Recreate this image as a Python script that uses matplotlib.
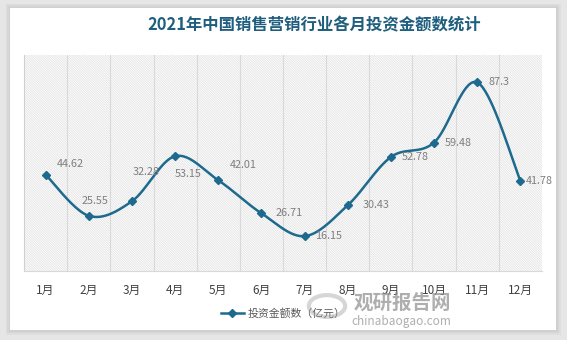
import numpy as np
import matplotlib.pyplot as plt
from matplotlib.patches import Rectangle, Circle
from matplotlib.lines import Line2D

plt.rcParams['font.family'] = ['Noto Sans CJK SC', 'DejaVu Sans']
plt.rcParams['hatch.linewidth'] = 0.6

months = ['1月', '2月', '3月', '4月', '5月', '6月', '7月', '8月', '9月', '10月', '11月', '12月']
amounts = [44.62, 25.55, 32.28, 53.15, 42.01, 26.71, 16.15, 30.43, 52.78, 59.48, 87.3, 41.78]
series_name = '投资金额数（亿元）'
title = '2021年中国销售营销行业各月投资金额数统计'

# label offsets in pixels (dx, dy)
label_offsets = [(25, 11), (6, 15), (14, 29), (13, -18), (25, 15), (28, 0),
                 (24, 0), (28, 0), (24, 0), (24, 0), (22, 0), (19, 0)]

line_color = '#1D6A8E'
title_color = '#1F5E7E'


def smooth_curve(x, y, n=40):
    # Catmull-Rom through the points, written as cubic Bezier pieces
    x = np.asarray(x, float)
    y = np.asarray(y, float)
    px = np.concatenate([[x[0]], x, [x[-1]]])
    py = np.concatenate([[y[0]], y, [y[-1]]])
    t = np.linspace(0, 1, n)
    xs, ys = [], []
    for i in range(1, len(x)):
        p0 = np.array([px[i], py[i]])
        p3 = np.array([px[i + 1], py[i + 1]])
        p1 = p0 + (np.array([px[i + 1], py[i + 1]]) - np.array([px[i - 1], py[i - 1]])) / 6
        p2 = p3 - (np.array([px[i + 2], py[i + 2]]) - np.array([px[i], py[i]])) / 6
        b = ((1 - t) ** 3)[:, None] * p0 + (3 * (1 - t) ** 2 * t)[:, None] * p1 \
            + (3 * (1 - t) * t ** 2)[:, None] * p2 + (t ** 3)[:, None] * p3
        xs.append(b[:, 0])
        ys.append(b[:, 1])
    return np.concatenate(xs), np.concatenate(ys)


fig = plt.figure(figsize=(5.67, 3.40), dpi=100)
fig.patch.set_facecolor('#E6E6E6')

# white card with a soft shadow
for k, c in enumerate(['#DEDEDE', '#D6D6D6', '#D0D0D0']):
    pad = (3 - k) * 1.5
    fig.add_artist(Rectangle(((10 - pad) / 567, (10 - pad) / 340),
                             (546 + 2 * pad) / 567, (322 + 2 * pad) / 340,
                             transform=fig.transFigure, facecolor=c, edgecolor='none', zorder=0))
fig.add_artist(Rectangle((10 / 567, 10 / 340), 546 / 567, 322 / 340,
                         transform=fig.transFigure, facecolor='white', edgecolor='none', zorder=0))

ax = fig.add_axes([24 / 567, 69 / 340, 518 / 567, 216 / 340])
ax.set_facecolor('none')
ax.add_patch(Rectangle((0, 0), 1, 1, transform=ax.transAxes, facecolor='white',
                       edgecolor='#E3E3E3', hatch='\\' * 14, linewidth=0, zorder=0))

x = np.arange(len(months))
ax.set_xlim(-0.5, len(months) - 0.5)
ax.set_ylim(0, 100)

for b in np.arange(0.5, len(months) - 0.5, 1):
    ax.axvline(b, color='#D9D9D9', lw=0.8, zorder=1)

sx, sy = smooth_curve(x, amounts)
ax.plot(sx, sy, color=line_color, lw=1.8, zorder=3, solid_capstyle='round')
ax.plot(x, amounts, linestyle='none', marker='D', markersize=4.5, color=line_color, zorder=4)

for xi, v, (dx, dy) in zip(x, amounts, label_offsets):
    ax.annotate(f'{v:g}', (xi, v), xytext=(dx * 0.72, dy * 0.72), textcoords='offset points',
                ha='center', va='center', fontsize=7.8, color='#7F7F7F', zorder=5)

ax.set_xticks(x)
ax.set_xticklabels(months, fontsize=8.5, color='#404040')
ax.tick_params(axis='x', length=0, pad=9)
ax.set_yticks([])
for s in ['top', 'right']:
    ax.spines[s].set_visible(False)
ax.spines['left'].set_color('#D0D0D0')
ax.spines['bottom'].set_color('#D9D9D9')
ax.spines['left'].set_linewidth(0.8)
ax.spines['bottom'].set_linewidth(0.8)

fig.text(314 / 567, 1 - 25 / 340, title, ha='center', va='center',
         fontsize=11.8, fontweight='bold', color=title_color)

handle = Line2D([], [], color=line_color, lw=1.8, marker='D', markersize=4)
fig.legend([handle], [series_name], loc='center', bbox_to_anchor=(283 / 567, 1 - 313 / 340),
           frameon=False, fontsize=7.8, labelcolor='#595959', handlelength=2.2,
           handletextpad=0.3, borderpad=0)

# watermark
fig.add_artist(Circle((327 / 567, 1 - 306 / 340), 0.032, transform=fig.transFigure,
                      facecolor='none', edgecolor='#9A9A9A', lw=3, alpha=0.4, zorder=6))
fig.text(402 / 567, 1 - 303 / 340, '观研报告网', ha='center', va='center', fontsize=14,
         fontweight='bold', color='#8C8C8C', alpha=0.7, zorder=6)
fig.text(401 / 567, 1 - 321 / 340, 'chinabaogao.com', ha='center', va='center', fontsize=8.5,
         color='#8C8C8C', alpha=0.7, zorder=6)

fig.savefig('out.png', dpi=100)
